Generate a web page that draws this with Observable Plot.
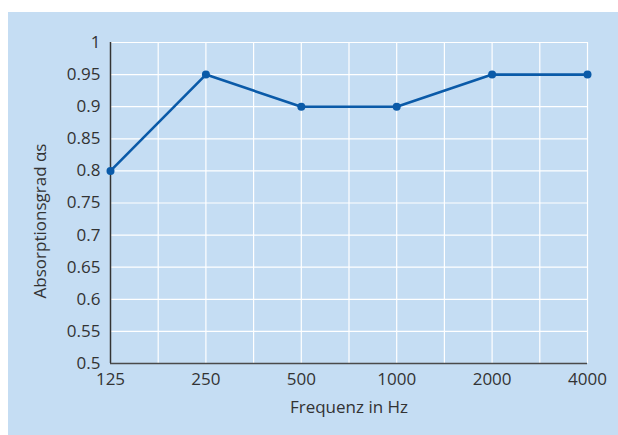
<!DOCTYPE html>
<html>
<head>
<meta charset="utf-8">
<script src="https://cdn.jsdelivr.net/npm/d3@7"></script>
<script src="https://cdn.jsdelivr.net/npm/@observablehq/plot@0.6"></script>
<style>
  html, body { margin: 0; padding: 0; background: #ffffff; }
  #chart { position: absolute; left: 8px; top: 12px; width: 610px; height: 423px; background: #c5ddf3; }
  #chart svg { display: block; }
</style>
</head>
<body>
<div id="chart"></div>
<script>
const frequencies = ["125", "250", "500", "1000", "2000", "4000"];
const absorption = [0.8, 0.95, 0.9, 0.9, 0.95, 0.95];
const yTicks = [0.5, 0.55, 0.6, 0.65, 0.7, 0.75, 0.8, 0.85, 0.9, 0.95, 1];
const xLabel = "Frequenz in Hz";
const yLabel = "Absorptionsgrad αs";

const data = frequencies.map((f, i) => ({idx: i, freq: f, a: absorption[i]}));
const xGrid = d3.range(0, frequencies.length - 0.99, 0.5);

const chart = Plot.plot({
  width: 610,
  height: 423,
  marginLeft: 102,
  marginRight: 31,
  marginTop: 30,
  marginBottom: 72,
  style: {background: "transparent", fontFamily: "'Open Sans', sans-serif", fontSize: "17px", color: "#333"},
  x: {domain: [0, frequencies.length - 1]},
  y: {domain: [0.5, 1]},
  marks: [
    Plot.gridX(xGrid, {stroke: "#ffffff", strokeOpacity: 1, strokeWidth: 1.2}),
    Plot.gridY(yTicks, {stroke: "#ffffff", strokeOpacity: 1, strokeWidth: 1.2}),
    Plot.ruleX([0], {stroke: "#333333", strokeWidth: 1.5}),
    Plot.ruleY([0.5], {stroke: "#4a4a4a", strokeWidth: 1.5}),
    Plot.axisY({ticks: yTicks, tickSize: 0, tickPadding: 10, tickFormat: d => String(+d.toFixed(2)),
      label: null, fontSize: 17}),
    Plot.axisX({ticks: d3.range(frequencies.length), tickSize: 0, tickPadding: 9, tickFormat: i => frequencies[i],
      label: null, fontSize: 17}),
    Plot.text([yLabel], {frameAnchor: "left", textAnchor: "middle", rotate: -90, dx: -70, dy: 18, fontSize: 17, fill: "#333", text: d => d}),
    Plot.text([xLabel], {frameAnchor: "bottom", textAnchor: "middle", dy: 49, fontSize: 17, fill: "#333", text: d => d}),
    Plot.line(data, {x: "idx", y: "a", stroke: "#0a5aa8", strokeWidth: 2.6}),
    Plot.dot(data, {x: "idx", y: "a", fill: "#0a5aa8", r: 4})
  ]
});
document.getElementById("chart").appendChild(chart);
</script>
</body>
</html>
